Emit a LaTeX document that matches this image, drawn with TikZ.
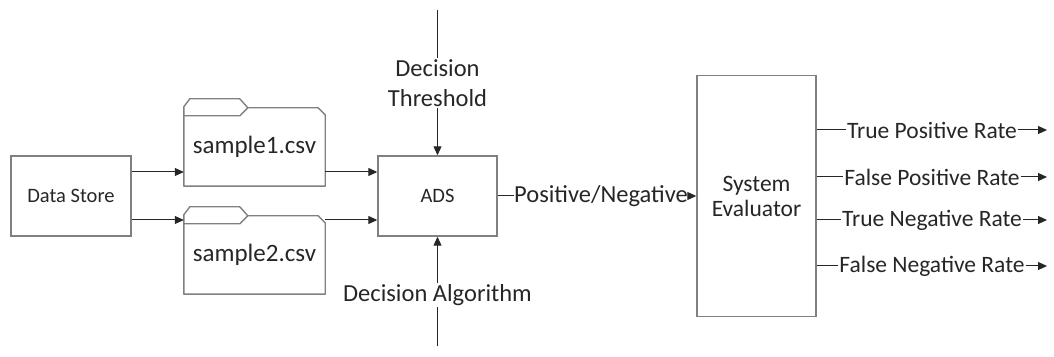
\documentclass[tikz,border=0pt]{standalone}
\usepackage{fontspec}
\setmainfont{Carlito}
\usepackage{xcolor}
\usepackage{tikz}
\usetikzlibrary{shapes, arrows.meta, positioning}

\definecolor{boxgray}{RGB}{128,128,128}
\definecolor{inkgray}{RGB}{38,38,38}

\tikzset{
    boxnode/.style={draw=boxgray, line width=1.4pt, rectangle, align=center,
        text=inkgray, font=\fontsize{20.5}{24}\selectfont},
    foldernode/.style={rectangle, inner sep=0pt, minimum width=141pt, minimum height=78pt,
        text=inkgray, font=\fontsize{25}{30}\selectfont},
    folderline/.style={draw=boxgray, line width=1.4pt, line join=round},
    labelnode/.style={inner sep=1pt, align=center, text=inkgray, font=\fontsize{24.5}{30}\selectfont},
    ratenode/.style={inner sep=1pt, text=inkgray, font=\fontsize{23.5}{28}\selectfont},
    flowline/.style={draw=black!85, line width=1pt},
    flowarrow/.style={flowline, -{Triangle[length=9pt, width=8pt]}}
}

% folder outline round a text node
\newcommand{\drawfolder}[1]{%
    \draw[folderline] (#1.south west) -- ([yshift=1pt]#1.north west) -- ++(6,8) -- ++(50,0) -- ++(8,-9)
        -- ([xshift=-7pt]#1.north east) -- ([yshift=-7pt]#1.north east) -- (#1.south east) -- cycle;
    \draw[folderline] ([yshift=-8pt]#1.north west) -- ++(56,0) -- ++(8,8);
}

\begin{document}
\begin{tikzpicture}[x=1pt, y=1pt]
    \useasboundingbox (0,0) rectangle (1054,356);

    % boxes
    \node[boxnode, minimum width=120pt, minimum height=80pt] (store) at (71,160) {Data Store};
    \node[boxnode, minimum width=119pt, minimum height=80pt] (ads) at (437.5,160) {ADS};
    \node[boxnode, minimum width=119pt, minimum height=241pt, font=\fontsize{23.5}{25}\selectfont]
        (eval) at (756.5,160) {System\\Evaluator};

    % sample files
    \node[foldernode] (sampleA) at (254.5,209) {sample1.csv};
    \node[foldernode] (sampleB) at (254.5,101) {sample2.csv};
    \drawfolder{sampleA}
    \drawfolder{sampleB}

    \draw[flowarrow] ([yshift=24pt]store.east) -- ([yshift=24pt]store.east -| sampleA.west);
    \draw[flowarrow] ([yshift=-24pt]store.east) -- ([yshift=-24pt]store.east -| sampleB.west);
    \draw[flowarrow] ([yshift=24pt]ads.west -| sampleA.east) -- ([yshift=24pt]ads.west);
    \draw[flowarrow] ([yshift=-24pt]ads.west -| sampleB.east) -- ([yshift=-24pt]ads.west);

    % threshold and algorithm
    \coordinate (thrtop) at (437.5,346);
    \coordinate (algbot) at (437.5,10);
    \node[labelnode] (thr) at (437.5,273) {Decision\\Threshold};
    \node[labelnode] (alg) at (437.5,61) {Decision Algorithm};
    \draw[flowline] (thrtop) -- (thr);
    \draw[flowarrow] (thr) -- (ads);
    \draw[flowline] (algbot) -- (alg);
    \draw[flowarrow] (alg) -- (ads);

    % ads output
    \node[labelnode, inner sep=0pt] (posneg) at (601,160) {Positive/Negative};
    \draw[flowline] (ads.east) -- (posneg.west);
    \draw[flowarrow] (posneg.east) -- (eval.west |- posneg);

    % evaluator outputs
    \foreach \nm/\txt/\yy in {tpr/True Positive Rate/226, fpr/False Positive Rate/179,
                              tnr/True Negative Rate/136, fnr/False Negative Rate/90} {
        \node[ratenode] (\nm) at (932,\yy) {\txt};
        \coordinate (\nm out) at (1047,\yy);
        \draw[flowline] (eval.east |- \nm) -- (\nm.west);
        \draw[flowarrow] (\nm.east) -- (\nm out);
    }
\end{tikzpicture}
\end{document}
